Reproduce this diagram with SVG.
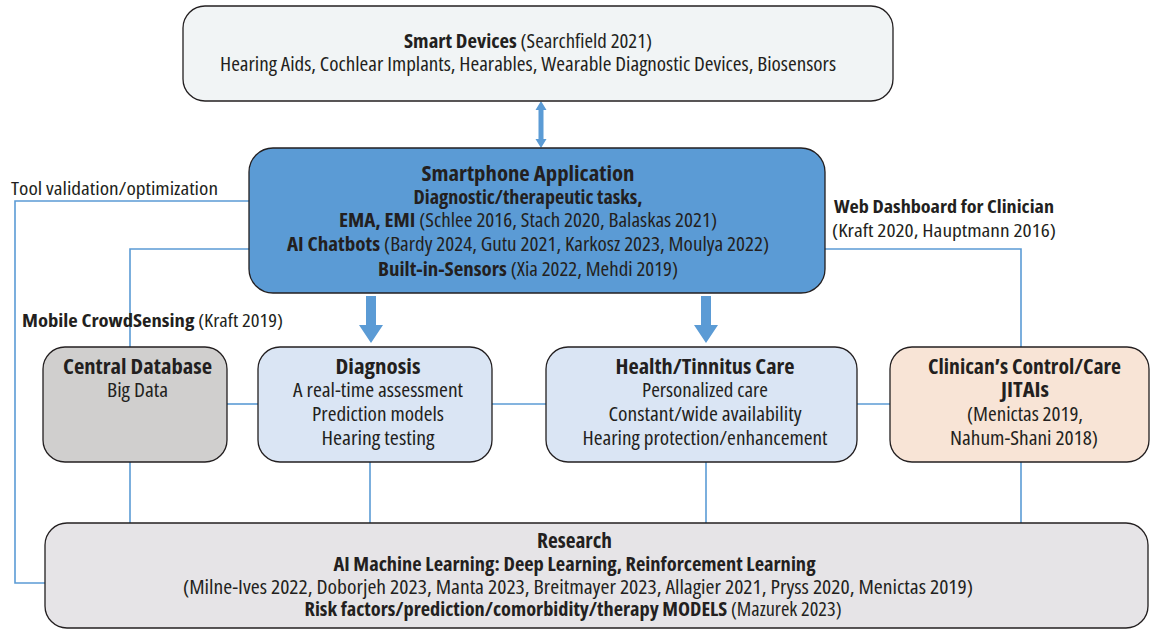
<svg xmlns="http://www.w3.org/2000/svg" width="1150" height="630" viewBox="0 0 1150 630">
  <defs>
    <style>
      .box { stroke: #231f20; stroke-width: 1.3; }
      .link { fill: none; stroke: #5b9bd5; stroke-width: 1.6; }
      .arrow { fill: #5b9bd5; stroke: none; }
      text { font-family: "Open Sans", "Liberation Sans", sans-serif; font-stretch: condensed; fill: #231f20; text-anchor: middle; }
      .t { font-size: 20px; }
      .h { font-size: 22px; font-weight: bold; }
      .lbl { font-size: 18px; text-anchor: start; }
      .b { font-weight: bold; }
    </style>
  </defs>

  <rect width="1150" height="630" fill="#ffffff"/>

  <!-- connectors -->
  <g id="connectors">
    <polyline class="link" points="249,201 15,201 15,583 45,583"/>
    <polyline class="link" points="249,249 130,249 130,347"/>
    <polyline class="link" points="825,249 1021,249 1021,347"/>
    <line class="link" x1="227" y1="404" x2="258" y2="404"/>
    <line class="link" x1="492" y1="404" x2="546" y2="404"/>
    <line class="link" x1="857" y1="404" x2="890" y2="404"/>
    <line class="link" x1="130" y1="462" x2="130" y2="523"/>
    <line class="link" x1="370" y1="462" x2="370" y2="523"/>
    <line class="link" x1="706" y1="462" x2="706" y2="523"/>
    <line class="link" x1="1021" y1="462" x2="1021" y2="523"/>
    <!-- two-way link between devices and app -->
    <polygon class="arrow" points="541,101 546.5,110 543.5,110 543.5,139 546.5,139 541,148 535.5,139 538.5,139 538.5,110 535.5,110"/>
    <!-- app feeds diagnosis and care -->
    <polygon class="arrow" points="366,296 376,296 376,325 383,325 371,343 359,325 366,325"/>
    <polygon class="arrow" points="701,296 711,296 711,325 718,325 706,343 694,325 701,325"/>
  </g>

  <!-- connector labels -->
  <g id="labels">
    <text class="lbl" x="11" y="195" textLength="207" lengthAdjust="spacingAndGlyphs">Tool validation/optimization</text>
    <text class="lbl" x="22" y="327" textLength="261" lengthAdjust="spacingAndGlyphs"><tspan class="b">Mobile CrowdSensing</tspan> (Kraft 2019)</text>
    <text class="lbl b" x="834" y="213" textLength="220" lengthAdjust="spacingAndGlyphs">Web Dashboard for Clinician</text>
    <text class="lbl" x="832" y="237" textLength="224" lengthAdjust="spacingAndGlyphs">(Kraft 2020, Hauptmann 2016)</text>
  </g>

  <g id="smart-devices">
    <rect class="box" x="183" y="6" width="710" height="95" rx="22" fill="#f1f4f5"/>
    <text class="t" x="528" y="48" textLength="248" lengthAdjust="spacingAndGlyphs"><tspan class="b">Smart Devices</tspan> (Searchfield 2021)</text>
    <text class="t" x="528" y="71" textLength="616" lengthAdjust="spacingAndGlyphs">Hearing Aids, Cochlear Implants, Hearables, Wearable Diagnostic Devices, Biosensors</text>
  </g>

  <g id="smartphone-app">
    <rect class="box" x="249" y="148" width="576" height="145" rx="24" fill="#5b9bd5"/>
    <text class="h" x="528" y="181" textLength="213" lengthAdjust="spacingAndGlyphs">Smartphone Application</text>
    <text class="t b" x="528" y="204" textLength="229" lengthAdjust="spacingAndGlyphs">Diagnostic/therapeutic tasks,</text>
    <text class="t" x="528" y="227" textLength="378" lengthAdjust="spacingAndGlyphs"><tspan class="b">EMA, EMI</tspan> (Schlee 2016, Stach 2020, Balaskas 2021)</text>
    <text class="t" x="528" y="251" textLength="482" lengthAdjust="spacingAndGlyphs"><tspan class="b">AI Chatbots</tspan> (Bardy 2024, Gutu 2021, Karkosz 2023, Moulya 2022)</text>
    <text class="t" x="528" y="276" textLength="300" lengthAdjust="spacingAndGlyphs"><tspan class="b">Built-in-Sensors</tspan> (Xia 2022, Mehdi 2019)</text>
  </g>

  <g id="central-database">
    <rect class="box" x="43" y="347" width="184" height="115" rx="22" fill="#d0cfce"/>
    <text class="h" x="137.5" y="374" textLength="149" lengthAdjust="spacingAndGlyphs">Central Database</text>
    <text class="t" x="137.5" y="397" textLength="61" lengthAdjust="spacingAndGlyphs">Big Data</text>
  </g>

  <g id="diagnosis">
    <rect class="box" x="258" y="347" width="234" height="115" rx="22" fill="#dae5f4"/>
    <text class="h" x="378" y="374" textLength="85" lengthAdjust="spacingAndGlyphs">Diagnosis</text>
    <text class="t" x="378" y="397" textLength="170" lengthAdjust="spacingAndGlyphs">A real-time assessment</text>
    <text class="t" x="378" y="421" textLength="132" lengthAdjust="spacingAndGlyphs">Prediction models</text>
    <text class="t" x="378" y="445" textLength="113" lengthAdjust="spacingAndGlyphs">Hearing testing</text>
  </g>

  <g id="health-care">
    <rect class="box" x="546" y="347" width="311" height="115" rx="22" fill="#dae5f4"/>
    <text class="h" x="705" y="374" textLength="179" lengthAdjust="spacingAndGlyphs">Health/Tinnitus Care</text>
    <text class="t" x="705" y="397" textLength="126" lengthAdjust="spacingAndGlyphs">Personalized care</text>
    <text class="t" x="705" y="421" textLength="193" lengthAdjust="spacingAndGlyphs">Constant/wide availability</text>
    <text class="t" x="705" y="445" textLength="245" lengthAdjust="spacingAndGlyphs">Hearing protection/enhancement</text>
  </g>

  <g id="clinician-care">
    <rect class="box" x="890" y="347" width="259" height="115" rx="22" fill="#f8e4d6"/>
    <text class="h" x="1024.5" y="374" textLength="193" lengthAdjust="spacingAndGlyphs">Clinican’s Control/Care</text>
    <text class="h" x="1025" y="397" textLength="48" lengthAdjust="spacingAndGlyphs">JITAIs</text>
    <text class="t" x="1025" y="421" textLength="116" lengthAdjust="spacingAndGlyphs">(Menictas 2019,</text>
    <text class="t" x="1024" y="445" textLength="148" lengthAdjust="spacingAndGlyphs">Nahum-Shani 2018)</text>
  </g>

  <g id="research">
    <rect class="box" x="45" y="523" width="1103" height="105" rx="22" fill="#e6e4e7"/>
    <text class="h" x="574.5" y="548" textLength="75" lengthAdjust="spacingAndGlyphs">Research</text>
    <text class="t b" x="574.5" y="571" textLength="482" lengthAdjust="spacingAndGlyphs">AI Machine Learning: Deep Learning, Reinforcement Learning</text>
    <text class="t" x="578" y="594" textLength="790" lengthAdjust="spacingAndGlyphs">(Milne-Ives 2022, Doborjeh 2023, Manta 2023, Breitmayer 2023, Allagier 2021, Pryss 2020, Menictas 2019)</text>
    <text class="t" x="573" y="616" textLength="537" lengthAdjust="spacingAndGlyphs"><tspan class="b">Risk factors/prediction/comorbidity/therapy MODELS</tspan> (Mazurek 2023)</text>
  </g>
</svg>
